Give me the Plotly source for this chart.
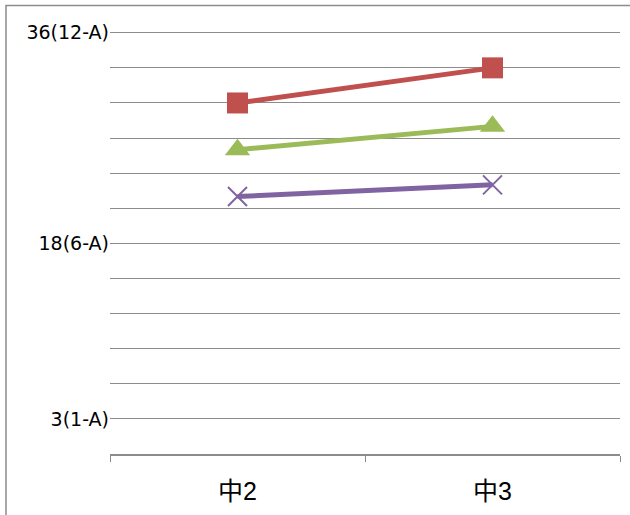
import plotly.graph_objects as go

categories = ["中2", "中3"]
series_red = [30, 33]
series_green = [26, 28]
series_purple = [22, 23]
y_tick_values = [0, 3, 6, 9, 12, 15, 18, 21, 24, 27, 30, 33, 36]
y_tick_labels = ["", "3(1-A)", "", "", "", "", "18(6-A)", "", "", "", "", "", "36(12-A)"]

fig = go.Figure()
fig.add_trace(go.Scatter(
    x=categories, y=series_red, mode="lines+markers",
    line=dict(color="#C0504D", width=5),
    marker=dict(symbol="square", size=21, color="#C0504D"),
))
fig.add_trace(go.Scatter(
    x=categories, y=series_green, mode="lines+markers",
    line=dict(color="#9BBB59", width=5),
    marker=dict(symbol="triangle-up", size=22, color="#9BBB59"),
))
fig.add_trace(go.Scatter(
    x=categories, y=series_purple, mode="lines+markers",
    line=dict(color="#8064A2", width=5),
    marker=dict(symbol="x-thin", size=19, color="#8064A2",
                line=dict(color="#8064A2", width=2)),
))

fig.update_layout(
    width=630, height=515,
    margin=dict(l=110, r=10, t=31, b=58.5),
    paper_bgcolor="white", plot_bgcolor="white",
    showlegend=False,
    hovermode=False,
    font=dict(family="Liberation Sans, Noto Sans CJK JP, sans-serif", color="black"),
    shapes=[dict(type="rect", xref="paper", yref="paper",
                 x0=-0.2039, x1=1.06, y0=-0.2, y1=1.06,
                 line=dict(color="#8c8c8c", width=1.5), fillcolor="rgba(0,0,0,0)",
                 layer="below")],
)
fig.update_xaxes(
    type="category",
    tickson="boundaries",
    ticks="outside", ticklen=6, tickcolor="#8c8c8c", tickwidth=1,
    showline=True, linecolor="#8c8c8c", linewidth=1.5,
    showgrid=False,
    tickfont=dict(size=25, family="Liberation Sans, Noto Sans CJK JP, sans-serif"),
    ticklabelstandoff=14,
    range=[-0.5, 1.5],
)
fig.update_yaxes(
    range=[0, 36.15],
    tickmode="array", tickvals=y_tick_values, ticktext=y_tick_labels,
    showgrid=True, gridcolor="#8c8c8c", gridwidth=1.2,
    showline=False, zeroline=False, ticks="",
    tickfont=dict(size=19, family="DejaVu Sans, sans-serif"),
)

fig.write_html("out.html", config={"displayModeBar": False},
               post_script="document.body.style.margin='0px';")
